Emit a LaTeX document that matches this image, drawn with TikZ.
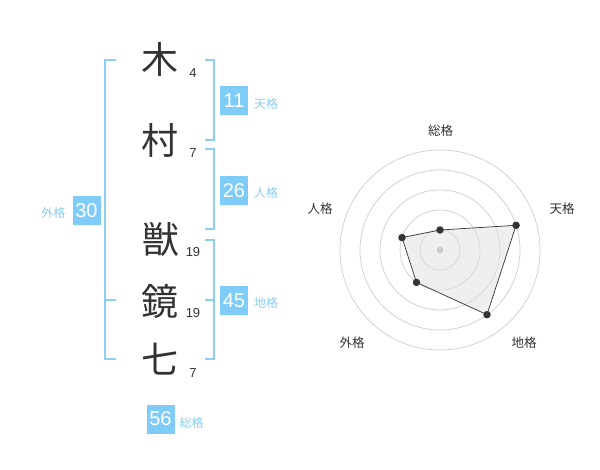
\documentclass[tikz,border=0pt]{standalone}
\usepackage{fontspec}
\setmainfont{Liberation Sans}
\newfontfamily\jp{Noto Sans CJK JP}
\definecolor{kblue}{HTML}{80CCF8}
\definecolor{kline}{HTML}{8CCFF5}
\definecolor{klabel}{HTML}{8CCCF0}
\definecolor{kdark}{HTML}{333333}
\definecolor{kring}{HTML}{CCCCCC}
\begin{document}
\begin{tikzpicture}[x=1pt,y=-1pt,
 kanji/.style={font=\jp\fontsize{37}{37}\selectfont, text=kdark, inner sep=0pt},
 strokes/.style={font=\fontsize{13}{13}\selectfont, text=kdark, inner sep=0pt},
 numbox/.style={fill=kblue, text=white, font=\fontsize{20}{20}\selectfont, minimum width=28pt, minimum height=29pt, inner sep=0pt},
 kaku/.style={font=\jp\fontsize{12}{12}\selectfont, text=klabel, inner sep=0pt},
 bracket/.style={draw=kline, line width=2pt},
 ring/.style={draw=kring, line width=0.7pt},
 axislabel/.style={font=\jp\fontsize{12.5}{12.5}\selectfont, text=kdark, inner sep=0pt},
 dot/.style={circle, fill=kdark, inner sep=0pt, minimum size=7.5pt},
]
\useasboundingbox (0,0) rectangle (600,470);
% characters
\node[kanji] (c1) at (160,59) {木};
\node[kanji] (c2) at (160,140.5) {村};
\node[kanji] (c3) at (160.5,239.5) {獣};
\node[kanji] (c4) at (160,301) {鏡};
\node[kanji] (c5) at (160,359.5) {七};
\node[strokes] (s1) at (193,73.3) {4};
\node[strokes] (s2) at (193,152.7) {7};
\node[strokes] (s3) at (193,252.4) {19};
\node[strokes] (s4) at (193,312.7) {19};
\node[strokes] (s5) at (193,372.7) {7};
% brackets
\draw[bracket] (116,60) -- (105,60) -- (105,359) -- (116,359);
\draw[bracket] (105,300) -- (116,300);
\draw[bracket] (205,60) -- (214,60) -- (214,140) -- (205,140);
\draw[bracket] (205,149) -- (214,149) -- (214,229) -- (205,229);
\draw[bracket] (205,240) -- (214,240) -- (214,359) -- (205,359);
\draw[bracket] (205,300) -- (214,300);
% boxes
\node[numbox] (ten) at (234,100.5) {11};
\node[kaku] (tenl) at (266,104) {天格};
\node[numbox] (jin) at (234,190.5) {26};
\node[kaku] (jinl) at (266,193) {人格};
\node[numbox] (gai) at (86.5,210.5) {30};
\node[kaku] (gail) at (53.5,213) {外格};
\node[numbox] (chi) at (234,300.5) {45};
\node[kaku] (chil) at (266,303) {地格};
\node[numbox] (sou) at (160.5,419) {56};
\node[kaku] (soul) at (191.5,422.7) {総格};
% radar
\coordinate (O) at (440,250);
\foreach \r in {20,40,60,80,100} \draw[ring] (O) circle [radius=\r pt];
\coordinate (pS) at (440,230);
\coordinate (pT) at (516.1,225.3);
\coordinate (pC) at (487.0,314.7);
\coordinate (pG) at (416.5,282.4);
\coordinate (pJ) at (402.0,237.6);
\fill[black!12, fill opacity=0.5] (pS) -- (pT) -- (pC) -- (pG) -- (pJ) -- cycle;
\draw[kdark, line width=0.7pt] (pS) -- (pT) -- (pC) -- (pG) -- (pJ) -- cycle;
\node[circle, fill=kring, inner sep=0pt, minimum size=7pt] (ctr) at (O) {};
\foreach \p in {pS,pT,pC,pG,pJ} \node[dot] at (\p) {};
\node[axislabel] (aS) at (440.5,130.5) {総格};
\node[axislabel] (aT) at (562,208.5) {天格};
\node[axislabel] (aJ) at (320,208.5) {人格};
\node[axislabel] (aG) at (352,342.5) {外格};
\node[axislabel] (aC) at (524,342.5) {地格};
\end{tikzpicture}
\end{document}
